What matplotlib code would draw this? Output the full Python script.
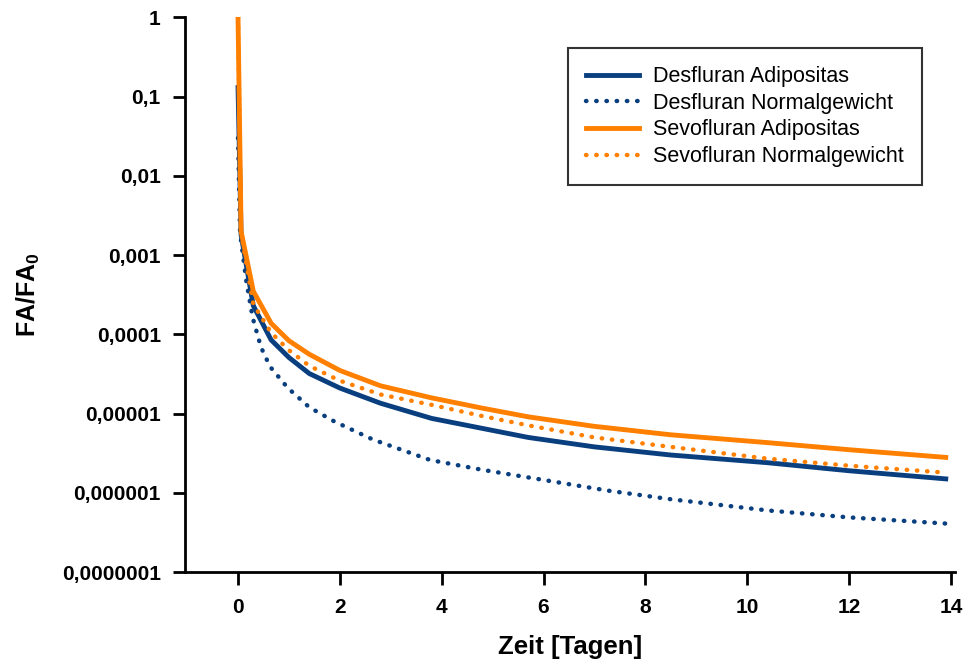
import matplotlib
matplotlib.use('Agg')
import matplotlib.pyplot as plt
from matplotlib.ticker import FixedLocator, NullLocator

plt.rcParams['font.family'] = ['Liberation Sans', 'DejaVu Sans']
plt.rcParams['mathtext.fontset'] = 'custom'
plt.rcParams['mathtext.rm'] = 'Liberation Sans'
plt.rcParams['mathtext.bf'] = 'Liberation Sans:bold'

# Zeit [Tagen]
t_main = [0, 0.06, 0.3, 0.65, 1.0, 1.4, 2.0, 2.8, 3.8, 4.8, 5.7, 7, 8.5, 10.4, 12, 13.9]
t_des_norm = [0, 0.04, 0.16, 0.29, 0.45, 0.63, 0.98, 1.4, 1.9, 2.65, 3.77, 4.8, 5.74,
              7.25, 8.5, 10.4, 12, 13.9]

sevo_adipo = [1.0, 2.0e-3, 3.5e-4, 1.38e-4, 8.3e-5, 5.6e-5, 3.5e-5, 2.24e-5, 1.58e-5,
              1.17e-5, 9.1e-6, 6.9e-6, 5.4e-6, 4.3e-6, 3.5e-6, 2.8e-6]
sevo_norm = [1.0, 1.9e-3, 2.4e-4, 1.05e-4, 6.3e-5, 4.0e-5, 2.6e-5, 1.74e-5, 1.29e-5,
             9.3e-6, 7.1e-6, 5.0e-6, 3.8e-6, 2.7e-6, 2.2e-6, 1.8e-6]
des_adipo = [0.13, 1.8e-3, 2.3e-4, 8.5e-5, 5.1e-5, 3.2e-5, 2.1e-5, 1.35e-5, 8.7e-6,
             6.5e-6, 5.0e-6, 3.8e-6, 3.0e-6, 2.4e-6, 1.9e-6, 1.5e-6]
des_norm = [0.03, 1.9e-3, 4.8e-4, 1.6e-4, 6.9e-5, 3.9e-5, 2.1e-5, 1.2e-5, 7.9e-6,
            4.7e-6, 2.6e-6, 1.95e-6, 1.55e-6, 1.07e-6, 8.3e-7, 6.0e-7, 4.9e-7, 4.1e-7]

y_ticks = [1e-7, 1e-6, 1e-5, 1e-4, 1e-3, 1e-2, 1e-1, 1]
y_ticklabels = ['0,0000001', '0,000001', '0,00001', '0,0001', '0,001', '0,01', '0,1', '1']
x_ticks = [0, 2, 4, 6, 8, 10, 12, 14]

blue = '#0a3f7f'
orange = '#ff8000'
dots = (0, (0.1, 2.2))

fig = plt.figure(figsize=(9.69, 6.66), dpi=100)
ax = fig.add_axes([0.191, 0.141, 0.795, 0.833])

ax.plot(t_main, sevo_norm, color=orange, lw=3.2, linestyle=dots, dash_capstyle='round',
        label='Sevofluran Normalgewicht', zorder=3)
ax.plot(t_main, des_adipo, color=blue, lw=3.5, label='Desfluran Adipositas', zorder=2)
ax.plot(t_des_norm, des_norm, color=blue, lw=3.2, linestyle=dots, dash_capstyle='round',
        label='Desfluran Normalgewicht', zorder=2)
ax.plot(t_main, sevo_adipo, color=orange, lw=3.5, label='Sevofluran Adipositas', zorder=4)

ax.set_yscale('log')
ax.set_ylim(1e-7, 1)
ax.set_xlim(-1.04, 14.09)
ax.yaxis.set_major_locator(FixedLocator(y_ticks))
ax.yaxis.set_minor_locator(NullLocator())
ax.set_yticklabels(y_ticklabels)
ax.set_xticks(x_ticks)

for s in ['top', 'right']:
    ax.spines[s].set_visible(False)
for s in ['left', 'bottom']:
    ax.spines[s].set_linewidth(2)
ax.tick_params(axis='both', direction='out', length=9, width=2, labelsize=15)
ax.tick_params(axis='y', pad=8.5)
ax.tick_params(axis='x', pad=10)
for lab in ax.get_xticklabels() + ax.get_yticklabels():
    lab.set_fontweight('bold')

ax.set_xlabel('Zeit [Tagen]', fontsize=18.5, fontweight='bold')
ax.set_ylabel(r'$\mathbf{FA/FA_0}$', fontsize=18)
ax.xaxis.set_label_coords(0.5, -0.114)
ax.yaxis.set_label_coords(-0.186, 0.5)

handles, labels = ax.get_legend_handles_labels()
order = ['Desfluran Adipositas', 'Desfluran Normalgewicht',
         'Sevofluran Adipositas', 'Sevofluran Normalgewicht']
hmap = dict(zip(labels, handles))
leg = ax.legend([hmap[o] for o in order], order, loc='upper right',
                bbox_to_anchor=(0.956, 0.944), borderaxespad=0, fontsize=15.5,
                frameon=True, fancybox=False, edgecolor='black', handlelength=2.45,
                labelspacing=0.26, borderpad=0.83, handletextpad=0.65)
leg.get_frame().set_linewidth(1.5)

fig.savefig('out.png', dpi=100)
